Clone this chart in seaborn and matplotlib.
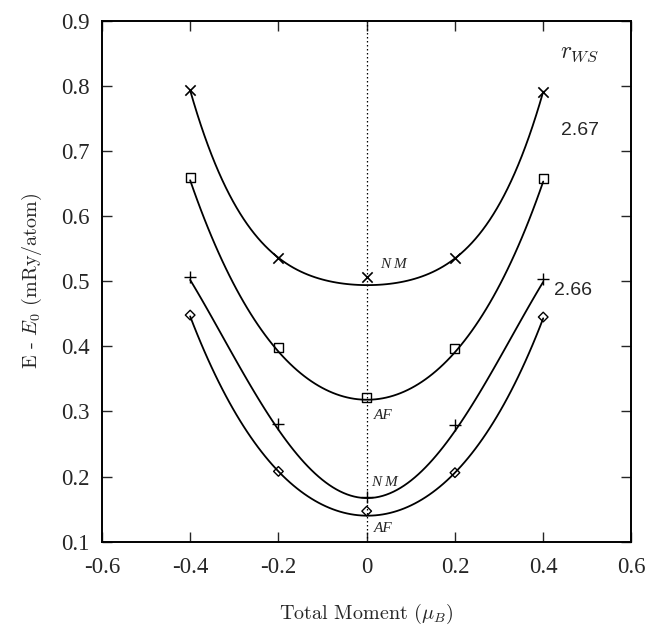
import numpy as np
import matplotlib
matplotlib.use("Agg")
import matplotlib.pyplot as plt
import seaborn as sns

# moments at which energies were computed
moment = [-0.4, -0.2, 0.0, 0.2, 0.4]

# E - E0 (mRy/atom) of the computed points
nm_267 = [0.793, 0.536, 0.507, 0.535, 0.791]   # crosses
af_267 = [0.660, 0.398, 0.321, 0.397, 0.658]   # squares
nm_266 = [0.507, 0.281, 0.168, 0.279, 0.504]   # plus
af_266 = [0.448, 0.208, 0.147, 0.206, 0.445]   # diamonds

# where the fitted curves pass at the same moments
fit_nm_267 = [0.793, 0.536, 0.494, 0.535, 0.791]
fit_af_267 = [0.655, 0.392, 0.318, 0.391, 0.653]
fit_nm_266 = [0.502, 0.272, 0.167, 0.270, 0.499]
fit_af_266 = [0.446, 0.208, 0.140, 0.206, 0.443]

xtick_vals = [-0.6, -0.4, -0.2, 0.0, 0.2, 0.4, 0.6]
xtick_labels = ["-0.6", "-0.4", "-0.2", "0", "0.2", "0.4", "0.6"]
ytick_vals = [0.1, 0.2, 0.3, 0.4, 0.5, 0.6, 0.7, 0.8, 0.9]
ytick_labels = ["0.1", "0.2", "0.3", "0.4", "0.5", "0.6", "0.7", "0.8", "0.9"]

sns.set_style("ticks")
plt.rcParams['font.family'] = ['Liberation Serif', 'DejaVu Serif']
plt.rcParams['mathtext.fontset'] = 'cm'

fig = plt.figure(figsize=(6.49, 6.27), dpi=100)
ax = fig.add_axes([0.157, 0.136, 0.816, 0.831])

series = [
    (nm_267, fit_nm_267, 'x', 'black', 55, 1.2),
    (af_267, fit_af_267, 's', 'none', 42, 1.0),
    (nm_266, fit_nm_266, '+', 'black', 70, 1.0),
    (af_266, fit_af_266, 'D', 'none', 24, 1.0),
]

for vals, fit_y, mk, fc, sz, lw in series:
    sns.regplot(x=np.array(moment), y=np.array(fit_y), order=4, ci=None,
                scatter=False, truncate=True, ax=ax,
                line_kws=dict(color='black', lw=1.3))
    sns.scatterplot(x=moment, y=vals, marker=mk, s=sz, ax=ax,
                    facecolor=fc, edgecolor='black', color='black',
                    linewidth=lw, zorder=5)

ax.axvline(0, color='black', lw=0.9, ls=(0, (1.2, 2)), zorder=1)

ax.set_xlim(-0.6, 0.6)
ax.set_ylim(0.1, 0.9)
ax.set_xticks(xtick_vals)
ax.set_xticklabels(xtick_labels)
ax.set_yticks(ytick_vals)
ax.set_yticklabels(ytick_labels)
ax.tick_params(direction='in', top=True, right=True, length=7, width=1.0,
               labelsize=16.5)
ax.tick_params(axis='x', pad=11)
ax.tick_params(axis='y', pad=9)
for s in ax.spines.values():
    s.set_linewidth(1.4)
    s.set_color('black')

ax.set_xlabel(r"Total Moment ($\mu_B$)", fontsize=14.5, labelpad=17,
              family='cmr10')
ax.set_ylabel(r"E - $E_0$ (mRy/atom)", fontsize=14.5, labelpad=12,
              family='cmr10')

lab = dict(fontsize=11, style='italic', ha='center', va='center')
ax.text(0.06, 0.526, "N M", **lab)
ax.text(0.037, 0.294, "AF", **lab)
ax.text(0.04, 0.191, "N M", **lab)
ax.text(0.037, 0.120, "AF", **lab)

ax.text(0.483, 0.85, r"$r_{WS}$", fontsize=17, ha='center', va='center')
ax.text(0.483, 0.731, "2.67", fontsize=14, ha='center', va='center',
        family=['Liberation Sans', 'DejaVu Sans'])
ax.text(0.468, 0.485, "2.66", fontsize=14, ha='center', va='center',
        family=['Liberation Sans', 'DejaVu Sans'])

fig.savefig("out.png", dpi=100)
